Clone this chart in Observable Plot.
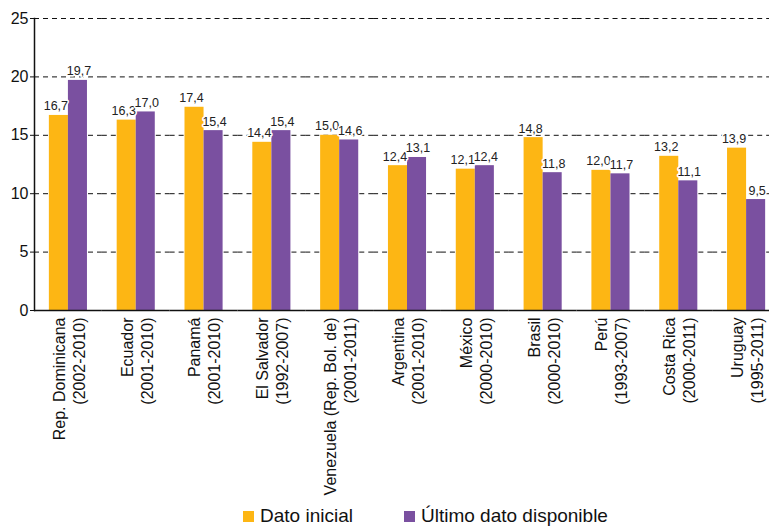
<!DOCTYPE html>
<html><head><meta charset="utf-8">
<script src="https://cdn.jsdelivr.net/npm/d3@7"></script>
<script src="https://cdn.jsdelivr.net/npm/@observablehq/plot@0.6"></script>
<style>
body{margin:0;background:#fff;font-family:"Liberation Sans",Arial,sans-serif;}
#legend{position:relative;height:30px;font-size:19px;color:#111}
.item{position:absolute;top:8px;display:flex;align-items:center;white-space:nowrap}
.sw{width:11px;height:11px;margin-right:6px}
</style></head><body>
<div id="chart"></div>
<div id="legend"></div>
<script>
const countries = ["Rep. Dominicana","Ecuador","Panamá","El Salvador","Venezuela (Rep. Bol. de)","Argentina","México","Brasil","Perú","Costa Rica","Uruguay"];
const periods = ["(2002-2010)","(2001-2010)","(2001-2010)","(1992-2007)","(2001-2011)","(2001-2010)","(2000-2010)","(2000-2010)","(1993-2007)","(2000-2011)","(1995-2011)"];
const inicial = [16.7,16.3,17.4,14.4,15.0,12.4,12.1,14.8,12.0,13.2,13.9];
const ultimo = [19.7,17.0,15.4,15.4,14.6,13.1,12.4,11.8,11.7,11.1,9.5];
const seriesNames = ["Dato inicial","Último dato disponible"];
const colors = ["#FDB614","#7A50A0"];
const yTicks = [0,5,10,15,20,25];

const data = countries.flatMap((c,i)=>[
  {country:c, series:seriesNames[0], value:inicial[i]},
  {country:c, series:seriesNames[1], value:ultimo[i]}
]);
const fmt = v => d3.format(".1f")(v).replace(".", ",");
const labelStyle = {fx:"country", x:"series", y:"value", text:d=>fmt(d.value), dy:-5, lineAnchor:"bottom", fontSize:12.5, fill:"#222", stroke:"white", strokeWidth:3};

const plot = Plot.plot({
  width:769, height:497, marginLeft:34, marginRight:0, marginTop:18, marginBottom:187,
  style:{fontFamily:'"Liberation Sans",Arial,sans-serif', background:"white", color:"#111"},
  fx:{domain:countries, range:[34,780], padding:0, round:false},
  x:{domain:seriesNames, paddingInner:0, paddingOuter:0.78, round:false, axis:null},
  y:{domain:[0,25]},
  color:{domain:seriesNames, range:colors},
  marks:[
    Plot.ruleY(yTicks.filter(d=>d>0), {stroke:"#111", strokeWidth:1, strokeDasharray:"5,4"}),
    Plot.barY(data, {fx:"country", x:"series", y:"value", fill:"series"}),
    Plot.text(data.filter(d=>d.series===seriesNames[0]), {...labelStyle, dx:-3}),
    Plot.text(data.filter(d=>d.series===seriesNames[1]), {...labelStyle, dx:1}),
    Plot.ruleY([0], {stroke:"#111", strokeWidth:1.5}),
    Plot.frame({anchor:"left", facet:"super", stroke:"#111", strokeWidth:1.5}),
    Plot.axisY({ticks:yTicks, tickSize:4, tickPadding:2, fontSize:16, label:null}),
    Plot.axisFx({anchor:"bottom", tickRotate:-90, tickSize:0, tickPadding:7, fontSize:16, lineHeight:1.25, label:null,
      tickFormat:c => c + "\n" + periods[countries.indexOf(c)]})
  ]
});
document.getElementById("chart").append(plot);

const legend = document.getElementById("legend");
const lx = [243, 404];
seriesNames.forEach((s,i)=>{
  const it = document.createElement("div");
  it.className = "item";
  it.style.left = lx[i] + "px";
  const sw = document.createElement("span");
  sw.className = "sw"; sw.style.background = colors[i];
  const t = document.createElement("span");
  t.textContent = s;
  it.append(sw, t);
  legend.append(it);
});
</script>
</body></html>
